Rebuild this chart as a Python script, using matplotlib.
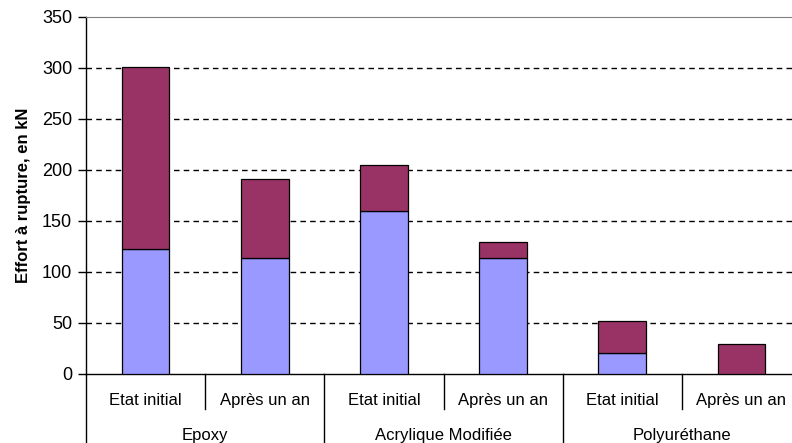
import matplotlib.pyplot as plt
import matplotlib.transforms as mtransforms

groups = ['Epoxy', 'Acrylique Modifiée', 'Polyuréthane']
periods = ['Etat initial', 'Après un an']
base = [122, 114, 160, 114, 20.5, 0]
extra = [179, 77, 45, 15, 31, 29]

plt.rcParams['font.family'] = ['Liberation Sans', 'DejaVu Sans']

fig = plt.figure(figsize=(7.92, 4.43), dpi=100)
ax = fig.add_axes([86 / 792, 69 / 443, 715 / 792, 357.5 / 443])

x = list(range(len(base)))
ax.bar(x, base, width=0.4, color='#9999FF', edgecolor='black', linewidth=0.9, zorder=3)
ax.bar(x, extra, width=0.4, bottom=base, color='#993366', edgecolor='black',
       linewidth=0.9, zorder=3)

ax.set_xlim(-0.5, len(base) - 0.5)
ax.set_ylim(0, 350)
ax.set_yticks(range(0, 351, 50))
ax.tick_params(axis='y', labelsize=13, length=6, width=1, pad=4, color='black')
ax.tick_params(axis='x', bottom=False, labelbottom=False)
for v in range(50, 301, 50):
    ax.axhline(v, color='black', linewidth=1, dashes=(4, 3), zorder=1)

ax.spines['right'].set_visible(False)
ax.spines['top'].set_color('#808080')
ax.spines['left'].set_linewidth(1)
ax.spines['bottom'].set_linewidth(1)

ax.set_ylabel('Effort à rupture, en kN', fontsize=12, fontweight='bold', labelpad=8)

# two-level category axis under the plot
tr = mtransforms.blended_transform_factory(ax.transData, ax.transAxes)
ax.plot([-0.5, -0.5], [0, -0.3], color='black', lw=1, transform=tr, clip_on=False)
for i in range(len(base)):
    ax.text(i, -0.073, periods[i % 2], transform=tr, ha='center', va='center',
            fontsize=12)
    if i % 2 == 0:
        ax.plot([i + 0.5, i + 0.5], [0, -0.098], color='black', lw=1,
                transform=tr, clip_on=False)
    else:
        ax.plot([i + 0.5, i + 0.5], [0, -0.3], color='black', lw=1,
                transform=tr, clip_on=False)
for g, name in enumerate(groups):
    ax.text(2 * g + 0.5, -0.172, name, transform=tr, ha='center', va='center',
            fontsize=12)

fig.savefig('out.png', dpi=100)
